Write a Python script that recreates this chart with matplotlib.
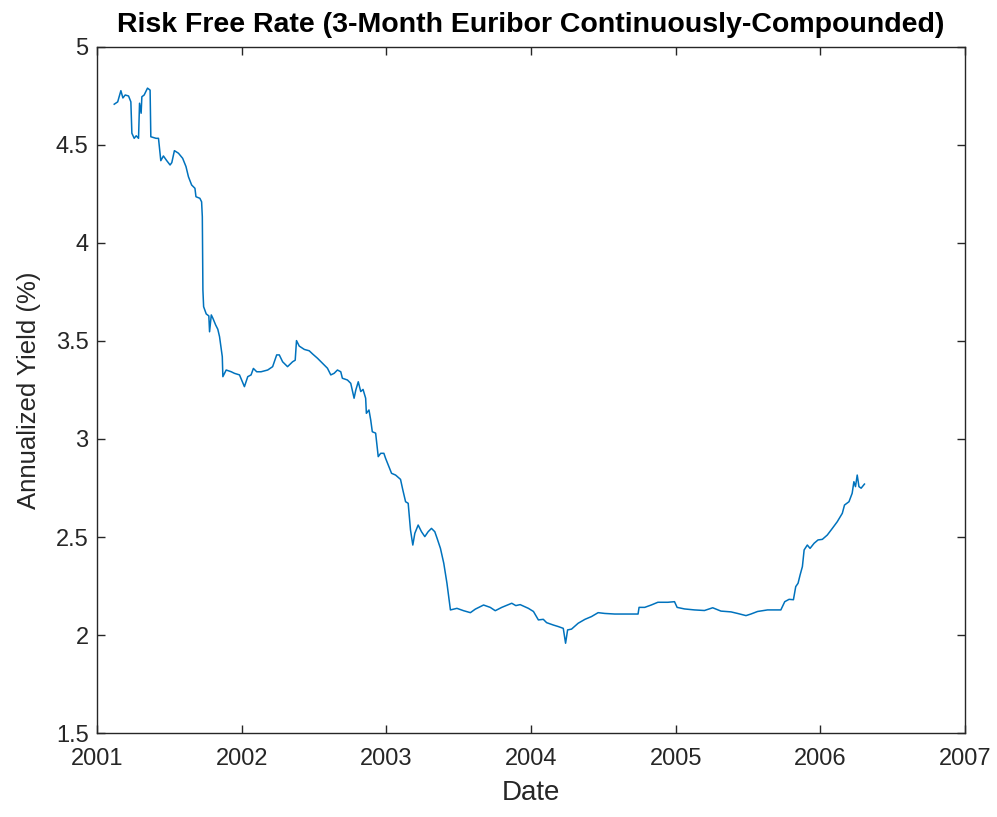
import matplotlib
matplotlib.use("Agg")
import matplotlib.pyplot as plt

plt.rcParams['font.family'] = ['Liberation Sans', 'DejaVu Sans']

# date as decimal year, yield in percent
dates = [2001.119, 2001.143, 2001.165, 2001.179, 2001.195, 2001.218, 2001.234, 2001.241,
         2001.257, 2001.271, 2001.287, 2001.294, 2001.305, 2001.310, 2001.326, 2001.349,
         2001.367, 2001.372, 2001.408, 2001.425, 2001.441, 2001.459, 2001.482, 2001.505,
         2001.517, 2001.535, 2001.563, 2001.592, 2001.615, 2001.632, 2001.654, 2001.677,
         2001.684, 2001.711, 2001.723, 2001.728, 2001.732, 2001.737, 2001.755, 2001.773,
         2001.778, 2001.790, 2001.801, 2001.820, 2001.835, 2001.847, 2001.866, 2001.870,
         2001.893, 2001.928, 2001.950, 2001.985, 2002.019, 2002.042, 2002.065, 2002.081,
         2002.104, 2002.134, 2002.180, 2002.214, 2002.242, 2002.260, 2002.283, 2002.317,
         2002.352, 2002.370, 2002.379, 2002.398, 2002.433, 2002.467, 2002.490, 2002.524,
         2002.559, 2002.593, 2002.616, 2002.639, 2002.662, 2002.685, 2002.696, 2002.731,
         2002.754, 2002.777, 2002.789, 2002.806, 2002.823, 2002.839, 2002.857, 2002.862,
         2002.880, 2002.892, 2002.903, 2002.926, 2002.944, 2002.961, 2002.983, 2002.995,
         2003.018, 2003.036, 2003.064, 2003.098, 2003.114, 2003.133, 2003.151, 2003.167,
         2003.183, 2003.197, 2003.220, 2003.243, 2003.266, 2003.289, 2003.312, 2003.335,
         2003.351, 2003.374, 2003.397, 2003.419, 2003.443, 2003.488, 2003.534, 2003.581,
         2003.615, 2003.672, 2003.718, 2003.753, 2003.798, 2003.867, 2003.895, 2003.925,
         2003.982, 2004.017, 2004.051, 2004.085, 2004.108, 2004.154, 2004.189, 2004.223,
         2004.239, 2004.253, 2004.280, 2004.326, 2004.373, 2004.418, 2004.464, 2004.510,
         2004.579, 2004.648, 2004.740, 2004.747, 2004.786, 2004.831, 2004.877, 2004.946,
         2004.992, 2005.010, 2005.061, 2005.130, 2005.199, 2005.256, 2005.313, 2005.382,
         2005.428, 2005.486, 2005.520, 2005.566, 2005.635, 2005.727, 2005.754, 2005.784,
         2005.814, 2005.830, 2005.846, 2005.860, 2005.876, 2005.888, 2005.910, 2005.929,
         2005.957, 2005.984, 2006.014, 2006.048, 2006.083, 2006.117, 2006.152, 2006.167,
         2006.198, 2006.220, 2006.232, 2006.243, 2006.255, 2006.267, 2006.282, 2006.305]
yields = [4.708, 4.720, 4.777, 4.740, 4.755, 4.750, 4.720, 4.560,
          4.534, 4.547, 4.534, 4.713, 4.662, 4.746, 4.755, 4.790,
          4.780, 4.542, 4.534, 4.534, 4.420, 4.444, 4.420, 4.398,
          4.410, 4.471, 4.458, 4.432, 4.390, 4.338, 4.296, 4.279,
          4.236, 4.228, 4.210, 4.134, 3.760, 3.675, 3.638, 3.628,
          3.547, 3.633, 3.616, 3.582, 3.560, 3.522, 3.420, 3.318,
          3.352, 3.343, 3.335, 3.327, 3.267, 3.318, 3.327, 3.360,
          3.343, 3.343, 3.352, 3.369, 3.429, 3.429, 3.394, 3.369,
          3.394, 3.402, 3.502, 3.474, 3.457, 3.450, 3.434, 3.412,
          3.386, 3.361, 3.327, 3.335, 3.352, 3.343, 3.310, 3.301,
          3.284, 3.208, 3.250, 3.292, 3.242, 3.253, 3.208, 3.131,
          3.148, 3.097, 3.037, 3.030, 2.910, 2.927, 2.927, 2.901,
          2.859, 2.825, 2.816, 2.794, 2.740, 2.680, 2.672, 2.536,
          2.459, 2.519, 2.561, 2.527, 2.502, 2.527, 2.544, 2.527,
          2.493, 2.442, 2.366, 2.264, 2.128, 2.136, 2.124, 2.114,
          2.132, 2.153, 2.141, 2.124, 2.141, 2.162, 2.150, 2.155,
          2.136, 2.120, 2.077, 2.080, 2.063, 2.051, 2.043, 2.034,
          1.958, 2.026, 2.030, 2.060, 2.080, 2.094, 2.114, 2.110,
          2.107, 2.107, 2.107, 2.141, 2.141, 2.153, 2.167, 2.167,
          2.170, 2.141, 2.133, 2.128, 2.125, 2.139, 2.122, 2.118,
          2.110, 2.099, 2.107, 2.120, 2.128, 2.128, 2.170, 2.182,
          2.180, 2.247, 2.264, 2.306, 2.349, 2.434, 2.459, 2.442,
          2.468, 2.485, 2.488, 2.510, 2.544, 2.578, 2.621, 2.663,
          2.680, 2.723, 2.782, 2.757, 2.816, 2.757, 2.749, 2.770]

xticks = [2001, 2002, 2003, 2004, 2005, 2006, 2007]
yticks = [1.5, 2, 2.5, 3, 3.5, 4, 4.5, 5]
ytick_labels = ['1.5', '2', '2.5', '3', '3.5', '4', '4.5', '5']

fig = plt.figure(figsize=(9.97, 8.17), dpi=100)
ax = fig.add_axes([0.0973, 0.1028, 0.8706, 0.8397])

ax.plot(dates, yields, color='#0072BD', linewidth=1.1)

ax.set_xlim(2001, 2007)
ax.set_ylim(1.5, 5)
ax.set_xticks(xticks)
ax.set_xticklabels([str(t) for t in xticks])
ax.set_yticks(yticks)
ax.set_yticklabels(ytick_labels)

grey = '#262626'
ax.tick_params(direction='in', length=6, width=1, colors=grey, labelsize=17,
               top=True, right=True)
ax.tick_params(axis='x', pad=11)
ax.tick_params(axis='y', pad=6)
for s in ax.spines.values():
    s.set_color(grey)
    s.set_linewidth(1)

ax.set_xlabel('Date', fontsize=20, color=grey, labelpad=7)
ax.set_ylabel('Annualized Yield (%)', fontsize=18.5, color=grey, labelpad=11)
ax.set_title('Risk Free Rate (3-Month Euribor Continuously-Compounded)',
             fontsize=20.5, fontweight='bold', color='black', pad=11)

fig.savefig('out.png', dpi=100)
